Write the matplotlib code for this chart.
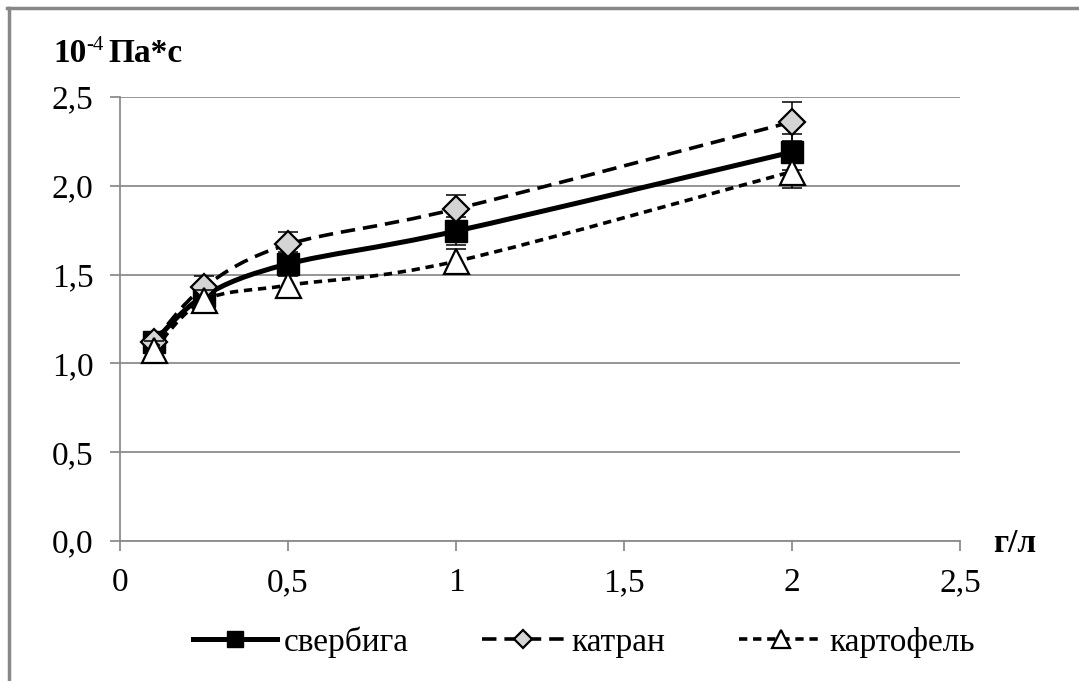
import numpy as np
import matplotlib
matplotlib.use("Agg")
import matplotlib.pyplot as plt
from matplotlib.path import Path
from matplotlib.patches import PathPatch
from matplotlib.lines import Line2D

plt.rcParams['font.family'] = ['Liberation Serif', 'DejaVu Serif']

x = [0.1, 0.25, 0.5, 1.0, 2.0]
sverbiga = [1.12, 1.38, 1.56, 1.745, 2.19]
katran = [1.12, 1.43, 1.67, 1.87, 2.36]
kartofel = [1.075, 1.355, 1.44, 1.575, 2.08]
err_sverbiga = [0.05, 0.06, 0.07, 0.08, 0.10]
err_katran = [0.05, 0.06, 0.07, 0.08, 0.11]
err_kartofel = [0.05, 0.06, 0.07, 0.07, 0.09]
labels = ['свербига', 'катран', 'картофель']
xticks = [0, 0.5, 1, 1.5, 2, 2.5]
xticklabels = ['0', '0,5', '1', '1,5', '2', '2,5']
yticks = [0.0, 0.5, 1.0, 1.5, 2.0, 2.5]
yticklabels = ['0,0', '0,5', '1,0', '1,5', '2,0', '2,5']

W, H = 1079, 681
fig = plt.figure(figsize=(W / 100, H / 100), dpi=100)
ax = fig.add_axes([120 / W, 1 - 541 / H, 840 / W, 444 / H])
ax.set_xlim(0, 2.5)
ax.set_ylim(0, 2.5)

grey = '#8c8c8c'
for s in ['top', 'right']:
    ax.spines[s].set_visible(False)
for s in ['left', 'bottom']:
    ax.spines[s].set_color(grey)
    ax.spines[s].set_linewidth(1.3)
ax.set_xticks(xticks)
ax.set_xticklabels(xticklabels)
ax.set_yticks(yticks)
ax.set_yticklabels(yticklabels)
ax.tick_params(axis='both', colors=grey, length=7, width=1.3, labelsize=24,
               labelcolor='black')
ax.tick_params(axis='y', pad=12)
ax.tick_params(axis='x', pad=12)
ax.yaxis.grid(True, color=grey, linewidth=1.3)
ax.set_axisbelow(True)


def smooth_path(xs, ys, ax):
    # Catmull-Rom style bezier in display space (Excel-like smoothing)
    fig.canvas.draw()
    pts = ax.transData.transform(np.column_stack([xs, ys]))
    n = len(pts)
    verts = [pts[0]]
    codes = [Path.MOVETO]
    t = 1 / 6
    for i in range(n - 1):
        p0 = pts[i - 1] if i > 0 else pts[i]
        p1 = pts[i]
        p2 = pts[i + 1]
        p3 = pts[i + 2] if i + 2 < n else pts[i + 1]
        c1 = p1 + (p2 - p0) * t
        c2 = p2 - (p3 - p1) * t
        verts += [c1, c2, p2]
        codes += [Path.CURVE4] * 3
    inv = ax.transData.inverted()
    return Path(inv.transform(np.array(verts)), codes)


series = [
    (sverbiga, err_sverbiga, dict(ls='-', lw=3.6), dict(marker='s', ms=16, mfc='black', mec='black')),
    (katran, err_katran, dict(ls=(0, (4, 2.2)), lw=2.6), dict(marker='D', ms=13, mfc='#d4d4d4', mec='black', mew=1.6)),
    (kartofel, err_kartofel, dict(ls=(0, (2.3, 1.6)), lw=2.6), dict(marker='^', ms=18, mfc='white', mec='black', mew=1.6)),
]

z = 3
handles = []
for ys, es, lstyle, mstyle in series:
    p = smooth_path(x, ys, ax)
    patch = PathPatch(p, facecolor='none', edgecolor='black', linewidth=lstyle['lw'],
                      linestyle=lstyle['ls'], zorder=z, capstyle='butt')
    ax.add_patch(patch)
    ax.errorbar(x, ys, yerr=es, fmt='none', ecolor='black', elinewidth=1.1,
                capsize=7, capthick=1.1, zorder=z + 0.5)
    ax.plot(x, ys, linestyle='none', zorder=z + 1, **mstyle)
    handles.append(Line2D([], [], color='black', linestyle=lstyle['ls'], linewidth=lstyle['lw'], **mstyle))
    z += 2

leg = fig.legend(handles, labels, loc='center', bbox_to_anchor=(584 / W, 1 - 642 / H), ncol=3,
                 frameon=False, fontsize=24, handlelength=2.5, columnspacing=2.2,
                 handletextpad=0.2, markerscale=0.7)

# y-axis unit title: 10^-4 Па*с
ty = 1 - 54 / H
t1 = fig.text(53 / W, ty, '10', fontsize=24, fontweight='bold', va='center', ha='left')
fig.canvas.draw()
r = fig.canvas.get_renderer()
bb = t1.get_window_extent(r)
t2 = fig.text(bb.x1 / W, (H - 54 + 8) / H, '-4', fontsize=15, fontweight='normal', va='center', ha='left')
bb2 = t2.get_window_extent(r)
fig.text((bb2.x1 + 5) / W, ty, 'Па*с', fontsize=24, fontweight='bold', va='center', ha='left')

fig.text(993 / W, 1 - 543 / H, 'г/л', fontsize=24, fontweight='bold', va='center', ha='left')

# outer frame (left and top only visible)
fig.add_artist(Line2D([8.5 / W, 8.5 / W], [0, 1 - 7.5 / H], transform=fig.transFigure,
                      color='#888888', linewidth=2.5))
fig.add_artist(Line2D([7 / W, 1], [1 - 7.5 / H, 1 - 7.5 / H], transform=fig.transFigure,
                      color='#888888', linewidth=2.5))

fig.savefig('out.png', dpi=100)
